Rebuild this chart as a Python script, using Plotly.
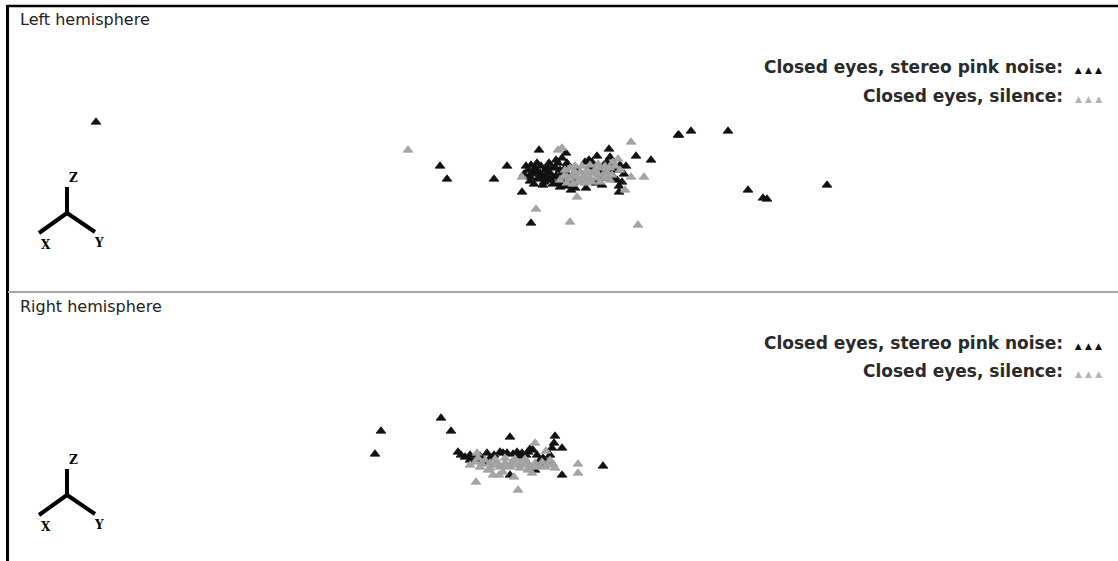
import plotly.graph_objects as go

# Projected source locations (screen-plane units of the 3D view, x to the right, z downward)
# Left hemisphere
left_noise_x = [96, 440, 447, 494, 507, 539, 566, 609, 597, 589, 636, 651, 678, 626, 619, 586, 571, 560,
                522, 543, 537, 531, 528, 533, 540, 547, 550, 553, 548, 555, 558, 562, 567, 570, 573, 563,
                557, 543, 538, 578, 585, 592, 590, 607, 612, 615, 612, 617, 622, 603, 600, 610, 524, 530,
                545, 552, 535, 679, 691, 728, 748, 763, 767, 827,
                526, 531, 536, 541, 546, 551, 556, 560, 565, 568, 574, 530, 534, 544, 556, 562, 604, 608,
                614, 619, 624, 602, 596, 620, 531, 540, 549, 575, 566, 553]
left_noise_z = [122, 166, 179, 179, 166, 150, 153, 149, 156, 160, 156, 160, 135, 166, 192, 188, 190, 187,
                192, 185, 163, 223, 170, 172, 173, 167, 173, 177, 180, 167, 163, 173, 163, 180, 183, 182,
                183, 177, 178, 170, 162, 162, 167, 162, 167, 170, 175, 180, 182, 178, 172, 157, 174, 177,
                170, 168, 168, 135, 131, 131, 190, 198, 199, 185,
                166, 165, 171, 166, 175, 180, 176, 170, 168, 175, 178, 181, 184, 182, 160, 158, 165, 170,
                178, 186, 174, 185, 183, 165, 174, 179, 163, 188, 186, 184]
left_silence_x = [408, 562, 631, 644, 631, 625, 577, 522, 536, 570, 638, 580, 587, 593, 600, 583, 590, 597,
                  577, 572, 567, 603, 607, 613, 618, 560, 567, 587, 580, 558, 610, 575, 595, 585, 605, 570,
                  565, 570, 575, 582, 590, 598, 605, 610, 615, 620, 578, 592, 600, 588, 598, 606, 564, 573,
                  585, 612]
left_silence_z = [150, 148, 142, 177, 177, 190, 197, 177, 209, 222, 225, 172, 170, 173, 168, 177, 178, 178,
                  177, 175, 177, 175, 172, 162, 159, 180, 183, 180, 180, 150, 180, 172, 170, 175, 178, 179,
                  170, 168, 166, 166, 165, 164, 166, 168, 166, 170, 182, 182, 182, 176, 174, 176, 176, 184,
                  183, 175]

# Right hemisphere
right_noise_x = [381, 375, 441, 451, 510, 461, 470, 470, 487, 490, 486, 555, 554, 562, 530, 507, 513, 522,
                 528, 533, 537, 540, 546, 603, 562, 510, 535, 500, 517,
                 458, 465, 475, 480, 494, 503, 520, 526, 543, 548, 550, 552]
right_noise_z = [139, 162, 126, 139, 145, 163, 163, 168, 161, 166, 170, 144, 151, 156, 157, 161, 162, 161,
                 160, 158, 163, 168, 172, 174, 183, 183, 178, 160, 160,
                 160, 165, 167, 164, 163, 161, 164, 163, 166, 170, 163, 156]
right_silence_x = [477, 535, 546, 578, 578, 553, 499, 493, 476, 518, 514, 532, 528, 503, 475, 482, 490, 497,
                   505, 512, 520, 527, 535, 542, 548, 480, 490, 500, 510, 520, 530, 540, 495, 515, 525, 505,
                   485, 495, 505, 515, 525, 535, 545, 550, 478, 488, 470, 555]
right_silence_z = [161, 151, 159, 172, 181, 172, 183, 183, 190, 198, 185, 181, 178, 180, 170, 172, 171, 170,
                   171, 170, 171, 170, 171, 170, 173, 175, 176, 175, 175, 176, 175, 174, 167, 167, 167, 166,
                   168, 173, 174, 173, 173, 175, 175, 168, 166, 178, 173, 176]

condition_labels = ["Closed eyes, stereo pink noise:", "Closed eyes, silence:"]
panel_titles = ["Left hemisphere", "Right hemisphere"]

W, H = 1118, 561
SPLIT = 292            # pixel row of the divider between the two views
TOP_H = SPLIT
BOT_H = H - SPLIT

BLACK = "#111111"
GREY = "#a6a6a6"

fig = go.Figure()


def add_view(xs_n, zs_n, xs_s, zs_s, xa, ya):
    fig.add_trace(go.Scatter(
        x=xs_n, y=zs_n, mode="markers", xaxis=xa, yaxis=ya, showlegend=False,
        marker=dict(symbol="triangle-up", size=8.5, color=BLACK, line=dict(color=BLACK, width=0.8)),
        hoverinfo="skip"))
    fig.add_trace(go.Scatter(
        x=xs_s, y=zs_s, mode="markers", xaxis=xa, yaxis=ya, showlegend=False,
        marker=dict(symbol="triangle-up", size=8.5, color=GREY, line=dict(color="#9a9a9a", width=0.8)),
        hoverinfo="skip"))


add_view(left_noise_x, left_noise_z, left_silence_x, left_silence_z, "x", "y")
add_view(right_noise_x, right_noise_z, right_silence_x, right_silence_z, "x2", "y2")

axis_off = dict(visible=False, showgrid=False, zeroline=False, fixedrange=True)
fig.update_layout(
    width=W, height=H,
    margin=dict(l=0, r=0, t=0, b=0),
    paper_bgcolor="white", plot_bgcolor="white",
    xaxis=dict(axis_off, range=[0, W], domain=[0, 1], anchor="y"),
    yaxis=dict(axis_off, range=[TOP_H, 0], domain=[BOT_H / H, 1], anchor="x"),
    xaxis2=dict(axis_off, range=[0, W], domain=[0, 1], anchor="y2"),
    yaxis2=dict(axis_off, range=[BOT_H, 0], domain=[0, BOT_H / H], anchor="x2"),
)

shapes = [
    # frame: top and left edges
    dict(type="line", xref="x", yref="y", x0=7, x1=W, y0=6, y1=6, line=dict(color="black", width=2.5)),
    dict(type="line", xref="paper", yref="paper", x0=7.5 / W, x1=7.5 / W, y0=0, y1=(H - 5) / H,
         line=dict(color="black", width=3)),
    # divider between the two views
    dict(type="line", xref="paper", yref="paper", x0=8 / W, x1=1, y0=(H - SPLIT) / H, y1=(H - SPLIT) / H,
         line=dict(color="#a8a8a8", width=2)),
]

annotations = []
for xa, ya, oy in [("x", "y", 0), ("x2", "y2", -10)]:
    # orientation glyph (Z up, X and Y receding)
    cx, cy = 67, 213 + oy
    for (x1, y1) in [(67, 187 + oy), (39, 233 + oy), (95, 232 + oy)]:
        shapes.append(dict(type="line", xref=xa, yref=ya, x0=cx, y0=cy, x1=x1, y1=y1,
                           line=dict(color="black", width=4)))
    for txt, tx, ty in [("Z", 73, 178 + oy), ("X", 46, 245 + oy), ("Y", 99, 243 + oy)]:
        annotations.append(dict(text=txt, x=tx, y=ty, xref=xa, yref=ya, showarrow=False,
                                font=dict(family="DejaVu Serif", size=12, color="black", weight="bold"),
                                xanchor="center", yanchor="middle"))

title_pos = [("x", "y", 19), ("x2", "y2", 14)]
legend_rows = [("x", "y", [67, 96]), ("x2", "y2", [51, 79])]
for i, ((xa, ya, ty), (_, _, rows)) in enumerate(zip(title_pos, legend_rows)):
    annotations.append(dict(text=panel_titles[i], x=18, y=ty, xref=xa, yref=ya, showarrow=False,
                            xanchor="left", yanchor="middle",
                            font=dict(family="DejaVu Sans", size=16, color="#222222")))
    for label, row_y, col in zip(condition_labels, rows, [BLACK, "#b4b4b4"]):
        annotations.append(dict(
            text=label + "  <span style='font-size:9px;color:" + col + "'>▲ ▲ ▲</span>",
            x=1104, y=row_y, xref=xa, yref=ya, showarrow=False, xanchor="right", yanchor="middle",
            font=dict(family="DejaVu Sans", size=17, color="#2a2a2a", weight="bold")))

fig.update_layout(shapes=shapes, annotations=annotations)
fig.write_html("out.html")
